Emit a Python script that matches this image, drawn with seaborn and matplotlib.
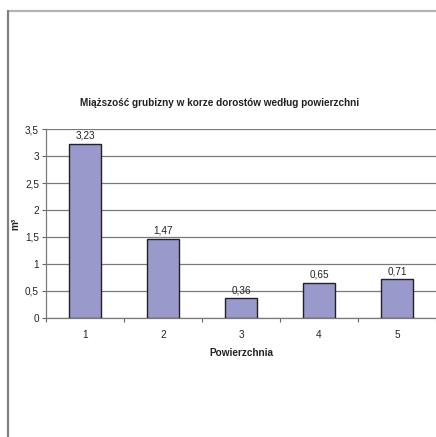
import matplotlib
matplotlib.use("Agg")
import matplotlib.pyplot as plt
from matplotlib.lines import Line2D
from matplotlib.ticker import FuncFormatter, FixedLocator
import seaborn as sns
import pandas as pd

# Data
surfaces = ["1", "2", "3", "4", "5"]
volumes = [3.23, 1.47, 0.36, 0.65, 0.71]
y_ticks = [0, 0.5, 1, 1.5, 2, 2.5, 3, 3.5]

title = "Miąższość grubizny w korze dorostów według powierzchni"
x_label = "Powierzchnia"
y_label = "m³"

sns.set_style("white")
plt.rcParams["font.family"] = ["Liberation Sans", "DejaVu Sans"]

FS = 7.2
TXT = "#222222"

df = pd.DataFrame({"surface": surfaces, "volume": volumes})

W, H = 436, 437
fig = plt.figure(figsize=(W / 100, H / 100), dpi=100)
ax = fig.add_axes([46 / W, 1 - 317.7 / H, (436 - 46) / W, (317.7 - 129.3) / H])

sns.barplot(data=df, x="surface", y="volume", color="#9999CC", width=0.4,
            edgecolor="#222222", linewidth=1.0, saturation=1, ax=ax, zorder=3)

ax.set_xlim(-0.5, len(surfaces) - 0.5)
ax.set_ylim(0, 3.5)
ax.set_yticks(y_ticks)
ax.yaxis.set_major_formatter(FuncFormatter(lambda v, p: f"{v:g}".replace(".", ",")))
ax.grid(axis="y", color="#7a7a7a", linewidth=0.9, zorder=0)
ax.set_axisbelow(True)

# category ticks sit between the bars
ax.xaxis.set_minor_locator(FixedLocator([i + 0.5 for i in range(-1, len(surfaces))]))
ax.tick_params(axis="x", which="major", length=0, pad=9, labelsize=FS, colors=TXT)
ax.tick_params(axis="x", which="minor", length=3, width=0.8, color="#666666", direction="out")
ax.tick_params(axis="y", which="major", length=3, width=0.8, color="#666666",
               direction="out", pad=2, labelsize=FS, labelcolor=TXT)
ax.tick_params(bottom=True, left=True)
ax.xaxis.set_tick_params(which="minor", bottom=True)

for side in ["top", "right"]:
    ax.spines[side].set_visible(False)
for side in ["left", "bottom"]:
    ax.spines[side].set_color("#7a7a7a")
    ax.spines[side].set_linewidth(0.9)

for i, v in enumerate(volumes):
    ax.text(i, v + 0.06, f"{v:.2f}".replace(".", ","), ha="center", va="bottom",
            fontsize=FS, color=TXT)

ax.set_xlabel(x_label, fontsize=FS, fontweight="bold", color=TXT)
ax.xaxis.set_label_coords(0.5, -(348 - 317.7) / (317.7 - 129.3))
ax.set_ylabel(y_label, fontsize=FS, fontweight="bold", color=TXT)
ax.yaxis.set_label_coords(-(46 - 20) / 390, 0.5)
fig.text(219.5 / W, 1 - 103 / H, title, ha="center", va="center",
         fontsize=FS, fontweight="bold", color=TXT)

# outer chart frame
fig.add_artist(Line2D([7.5 / W, 1], [1 - 10.5 / H, 1 - 10.5 / H],
                      transform=fig.transFigure, color="#b4b4b4", linewidth=1.6))
fig.add_artist(Line2D([7.5 / W, 7.5 / W], [0, 1 - 10.5 / H],
                      transform=fig.transFigure, color="#808080", linewidth=1.6))

fig.savefig("out.png", dpi=100, facecolor="white")
